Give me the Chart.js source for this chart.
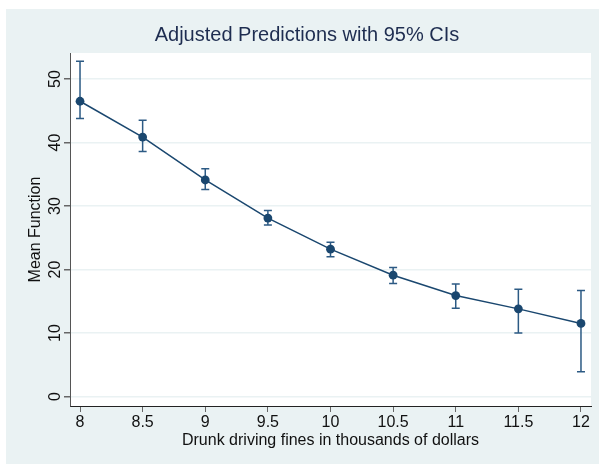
<!DOCTYPE html>
<html>
<head>
<meta charset="utf-8">
<script src="https://cdn.jsdelivr.net/npm/chart.js@4/dist/chart.umd.min.js"></script>
<style>
  html, body { margin: 0; padding: 0; background: #ffffff; }
  #wrap { position: absolute; left: 6px; top: 9px; width: 593px; height: 455px; background: #eaf2f3; }
  canvas { display: block; }
</style>
</head>
<body>
<div id="wrap"><canvas id="c" width="593" height="455"></canvas></div>
<script>
const fines = [8, 8.5, 9, 9.5, 10, 10.5, 11, 11.5, 12];
const meanPred = [46.5, 40.85, 34.1, 28.1, 23.2, 19.1, 15.9, 13.8, 11.5];
const ciLower = [43.8, 38.6, 32.6, 27.0, 22.0, 17.8, 13.9, 10.0, 3.9];
const ciUpper = [52.8, 43.5, 35.85, 29.3, 24.3, 20.3, 17.7, 16.9, 16.7];
const xTickValues = [8, 8.5, 9, 9.5, 10, 10.5, 11, 11.5, 12];
const yTickValues = [0, 10, 20, 30, 40, 50];

const FONT = '"Liberation Sans", Arial, Helvetica, sans-serif';
const NAVY = '#1a476f';

const plotBg = {
  id: 'plotBg',
  beforeDraw(chart) {
    const {ctx, chartArea: a} = chart;
    ctx.save();
    ctx.fillStyle = '#ffffff';
    ctx.fillRect(a.left, a.top, a.right - a.left, a.bottom - a.top);
    ctx.restore();
  }
};

const errorBars = {
  id: 'errorBars',
  beforeDatasetsDraw(chart) {
    const {ctx} = chart;
    const xs = chart.scales.x, ys = chart.scales.y;
    ctx.save();
    ctx.strokeStyle = '#2c5a84';
    ctx.lineWidth = 1.5;
    for (let i = 0; i < fines.length; i++) {
      const px = xs.getPixelForValue(fines[i]);
      const pl = ys.getPixelForValue(ciLower[i]);
      const pu = ys.getPixelForValue(ciUpper[i]);
      ctx.beginPath();
      ctx.moveTo(px, pl); ctx.lineTo(px, pu);
      ctx.moveTo(px - 4, pl); ctx.lineTo(px + 4, pl);
      ctx.moveTo(px - 4, pu); ctx.lineTo(px + 4, pu);
      ctx.stroke();
    }
    ctx.restore();
  }
};

new Chart(document.getElementById('c'), {
  type: 'line',
  data: {
    datasets: [{
      data: fines.map((f, i) => ({x: f, y: meanPred[i]})),
      borderColor: NAVY,
      borderWidth: 1.5,
      backgroundColor: NAVY,
      pointBackgroundColor: NAVY,
      pointBorderColor: NAVY,
      pointRadius: 4.4,
      pointBorderWidth: 0,
      tension: 0,
      fill: false
    }]
  },
  options: {
    responsive: false,
    animation: false,
    events: [],
    layout: { padding: { left: 17, right: 8, top: 0, bottom: 0 } },
    plugins: {
      legend: { display: false },
      tooltip: { enabled: false },
      title: {
        display: true,
        text: 'Adjusted Predictions with 95% CIs',
        color: '#1e2d50',
        font: { family: FONT, size: 20, weight: 'normal' },
        padding: { top: 14, bottom: 6 }
      }
    },
    scales: {
      x: {
        type: 'linear',
        min: 7.92,
        max: 12.08,
        afterBuildTicks(s) { s.ticks = xTickValues.map(v => ({value: v})); },
        afterFit(s) { s.height = 58; },
        grid: { display: true, drawOnChartArea: false, drawTicks: true, tickLength: 6, color: '#666666', tickColor: '#666666' },
        border: { display: true, color: '#222222', width: 1 },
        ticks: {
          color: '#111111',
          font: { family: FONT, size: 16 },
          padding: 1,
          maxRotation: 0,
          autoSkip: false,
          callback: v => String(v)
        },
        title: {
          display: true,
          text: 'Drunk driving fines in thousands of dollars',
          color: '#111111',
          font: { family: FONT, size: 16 },
          padding: { top: 0, bottom: 14 }
        }
      },
      y: {
        type: 'linear',
        min: -1.5,
        max: 54.1,
        afterBuildTicks(s) { s.ticks = yTickValues.map(v => ({value: v})); },
        afterFit(s) { s.width = 47; },
        grid: { display: true, drawOnChartArea: true, drawTicks: true, tickLength: 6, color: '#eaf2f3', tickColor: '#666666', lineWidth: 1.5 },
        border: { display: true, color: '#555555', width: 1 },
        ticks: {
          color: '#111111',
          font: { family: FONT, size: 16 },
          padding: 0,
          minRotation: 90,
          maxRotation: 90,
          crossAlign: 'center',
          autoSkip: false,
          callback: v => String(v)
        },
        title: {
          display: true,
          text: 'Mean Function',
          color: '#111111',
          font: { family: FONT, size: 16 },
          padding: { top: 3.4, bottom: 0 }
        }
      }
    }
  },
  plugins: [plotBg, errorBars]
});
</script>
</body>
</html>
